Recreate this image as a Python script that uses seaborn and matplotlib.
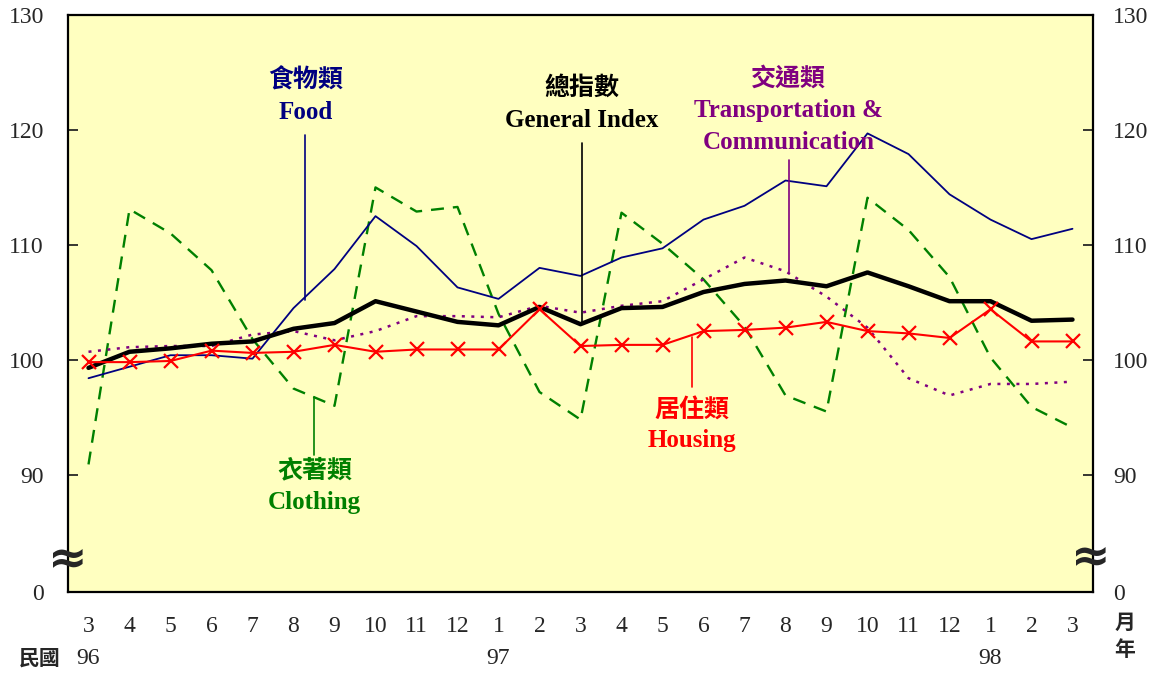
import seaborn as sns
import numpy as np
import pandas as pd
import matplotlib.pyplot as plt

months = ["3", "4", "5", "6", "7", "8", "9", "10", "11", "12", "1", "2", "3",
          "4", "5", "6", "7", "8", "9", "10", "11", "12", "1", "2", "3"]

general = [99.3, 100.7, 101.0, 101.4, 101.6, 102.7, 103.2, 105.1, 104.2, 103.3, 103.0, 104.6, 103.1,
           104.5, 104.6, 105.9, 106.6, 106.9, 106.4, 107.6, 106.4, 105.1, 105.1, 103.4, 103.5]
food = [98.4, 99.4, 100.4, 100.4, 100.1, 104.5, 107.9, 112.5, 109.9, 106.3, 105.3, 108.0, 107.3,
        108.9, 109.7, 112.2, 113.4, 115.6, 115.1, 119.7, 117.9, 114.4, 112.2, 110.5, 111.4]
clothing = [90.9, 113.1, 111.0, 107.8, 101.8, 97.5, 96.0, 115.0, 112.9, 113.3, 104.0, 97.2, 94.8,
            112.8, 110.1, 107.0, 102.9, 96.9, 95.5, 114.1, 111.3, 107.2, 100.2, 95.9, 94.1]
housing = [99.8, 99.8, 99.9, 100.8, 100.6, 100.7, 101.3, 100.7, 100.9, 100.9, 100.9, 104.4, 101.2,
           101.3, 101.3, 102.5, 102.6, 102.8, 103.3, 102.5, 102.3, 101.9, 104.4, 101.6, 101.6]
transport = [100.7, 101.1, 101.2, 101.2, 102.2, 102.5, 101.7, 102.5, 103.8, 103.8, 103.7, 104.7, 104.1,
             104.7, 105.1, 107.0, 108.9, 107.7, 105.5, 102.8, 98.4, 96.9, 97.9, 97.9, 98.1]

x = np.arange(len(months))

sns.set_style("white")
plt.rcParams['font.family'] = ['Liberation Serif', 'Noto Sans CJK TC', 'DejaVu Sans']
cjk = ['Noto Sans CJK TC', 'DejaVu Sans']

fig = plt.figure(figsize=(11.56, 6.75), dpi=100)
ax = fig.add_axes([68 / 1156, 1 - 592 / 675, (1093 - 68) / 1156, (592 - 15) / 675])
ax.set_facecolor("#FFFFC0")

sns.lineplot(x=x, y=clothing, ax=ax, color="#008000", lw=1.7, linestyle=(0, (5.5, 3.8)))
sns.lineplot(x=x, y=transport, ax=ax, color="#800080", lw=1.8, linestyle=(0, (1.2, 2.6)))
sns.lineplot(x=x, y=food, ax=ax, color="#000080", lw=1.3)
sns.lineplot(x=x, y=general, ax=ax, color="black", lw=3.2)
sns.lineplot(x=x, y=housing, ax=ax, color="#FF0000", lw=1.5, marker="x", markersize=10,
             mew=1.6, markeredgecolor="#FF0000")

ax.set_xlim(-0.5, 24.5)
ax.set_ylim(79.8, 130)

# axes frame
for s in ax.spines.values():
    s.set_color("black")
    s.set_linewidth(1.6)

ax.set_xticks(x)
ax.set_xticklabels(months, fontsize=17)
ax.set_xticks(x[:-1] + 0.5, minor=True)
ax.tick_params(axis="x", which="major", length=0, pad=17)
ax.tick_params(axis="x", which="minor", direction="in", length=6, width=1.3)

ax.set_yticks([79.8, 90, 100, 110, 120, 130])
ax.set_yticklabels(["0", "90", "100", "110", "120", "130"], fontsize=17)
ax.tick_params(axis="y", which="major", direction="in", length=7, width=1.3,
               left=True, right=True, labelleft=True, labelright=True)
for t in ax.yaxis.get_major_ticks():
    t.label2.set_horizontalalignment("left")
    t.label1.set_x(-24 / 1025)
    t.label2.set_x(1 + 20 / 1025)
ax.yaxis.set_tick_params(pad=0)
ax.set_xlabel("")
ax.set_ylabel("")

# axis break marks
ax.text(-0.5, 82.6, "≈", fontsize=34, fontweight="bold", ha="center", va="center",
        family="DejaVu Sans")
ax.text(24.45, 82.8, "≈", fontsize=34, fontweight="bold", ha="center", va="center",
        family="DejaVu Sans")

# series labels with leader lines
ax.text(5.29, 124.35, "食物類", color="#000080", fontsize=18, fontweight="bold",
        ha="center", va="center", family=cjk)
ax.text(5.29, 121.5, "Food", color="#000080", fontsize=18, fontweight="bold", ha="center", va="center")
ax.plot([5.29, 5.29], [119.6, 105.2], color="#000080", lw=1.2)

ax.text(12.04, 123.65, "總指數", color="black", fontsize=18, fontweight="bold",
        ha="center", va="center", family=cjk)
ax.text(12.04, 120.8, "General Index", color="black", fontsize=18, fontweight="bold",
        ha="center", va="center")
ax.plot([12.04, 12.04], [118.9, 103.3], color="black", lw=1.2)

ax.text(17.08, 124.45, "交通類", color="#800080", fontsize=18, fontweight="bold",
        ha="center", va="center", family=cjk)
ax.text(17.08, 121.65, "Transportation &", color="#800080", fontsize=18, fontweight="bold",
        ha="center", va="center")
ax.text(17.08, 118.95, "Communication", color="#800080", fontsize=18, fontweight="bold",
        ha="center", va="center")
ax.plot([17.08, 17.08], [117.4, 107.6], color="#800080", lw=1.2)

ax.text(14.72, 95.6, "居住類", color="#FF0000", fontsize=18, fontweight="bold",
        ha="center", va="center", family=cjk)
ax.text(14.72, 92.95, "Housing", color="#FF0000", fontsize=18, fontweight="bold",
        ha="center", va="center")
ax.plot([14.72, 14.72], [102.0, 97.6], color="#FF0000", lw=1.2)

ax.text(5.51, 90.35, "衣著類", color="#008000", fontsize=18, fontweight="bold",
        ha="center", va="center", family=cjk)
ax.text(5.51, 87.6, "Clothing", color="#008000", fontsize=18, fontweight="bold",
        ha="center", va="center")
ax.plot([5.51, 5.51], [96.8, 91.7], color="#008000", lw=1.2)

# year row
fig.text(40 / 1156, 1 - 658 / 675, "民國", fontsize=15, fontweight="bold", ha="center",
         va="center", family=cjk)
for px, yr in [(88, "96"), (498, "97"), (990, "98")]:
    fig.text(px / 1156, 1 - 658 / 675, yr, fontsize=17, ha="center", va="center")
fig.text(1125 / 1156, 1 - 622 / 675, "月", fontsize=15, fontweight="bold", ha="center",
         va="center", family=cjk)
fig.text(1125 / 1156, 1 - 650 / 675, "年", fontsize=15, fontweight="bold", ha="center",
         va="center", family=cjk)

fig.savefig("out.png", dpi=100, facecolor="white")
